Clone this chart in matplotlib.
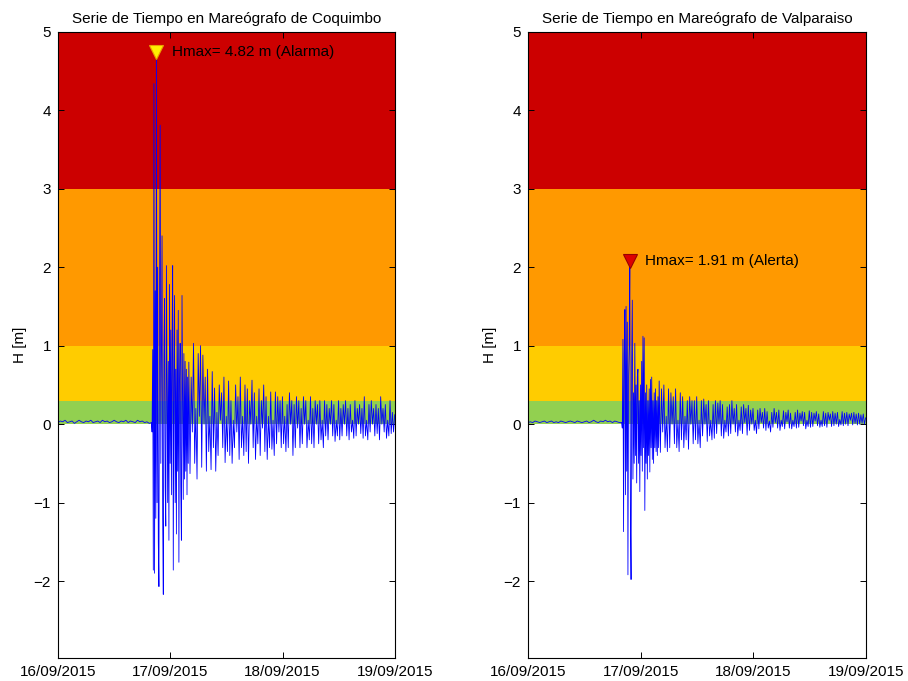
import numpy as np
import matplotlib
matplotlib.use('Agg')
import matplotlib.pyplot as plt

plt.rcParams['font.family'] = ['Liberation Sans', 'DejaVu Sans']

# titulos y estaciones
estaciones = ['Coquimbo', 'Valparaiso']
hmax = [4.82, 1.91]
estado = ['Alarma', 'Alerta']
marca_h = [4.74, 2.08]
dias = ['16/09/2015', '17/09/2015', '18/09/2015', '19/09/2015']

# niveles de alerta (m) y colores
niveles = [0.0, 0.3, 1.0, 3.0, 5.0]
colores_nivel = ['#92D050', '#FFCC00', '#FF9900', '#CC0000']

# muestreo (dias desde 16/09/2015 00:00)
t_pre0, dt_pre = 0.0, 1 / 48.
t_a0, dt_a = 0.832, 1 / 180.
t_b0, dt_b = 1.165, 1 / 96.

# Coquimbo
coq_pre = [0.02, 0.04, 0.03, 0.05, 0.02, 0.03, 0.04, 0.01, 0.03, 0.05,
           0.03, 0.02, 0.04, 0.03, 0.05, 0.02, 0.03, 0.04, 0.02, 0.05,
           0.03, 0.04, 0.02, 0.03, 0.05, 0.03, 0.02, 0.04, 0.03, 0.05,
           0.02, 0.04, 0.03, 0.02, 0.05, 0.03, 0.04, 0.02, 0.03, 0.01]
coq_a = [0.02, -0.10, 0.95, -1.86, 4.34, -1.90, 1.7, -1.2, 4.74, -1.0,
         2.0, -1.5, -2.07, 1.7, 3.81, -0.5, 1.0, 2.40, -1.2, -2.17,
         0.9, 1.6, -0.8, -1.3, 2.02, 0.5, -1.0, 0.8, -1.48, 1.78,
         -0.5, 1.2, -0.9, 1.0, 2.02, -1.86, 0.6, 1.64, -1.0, 0.7,
         -1.4, 1.2, -0.6, 1.45, -1.76, 0.5, 1.03, -0.8, -1.48, 1.64,
         0.3, -0.96, 0.9, -0.7, 0.8, -0.6, 0.7, -0.9, 0.6, -0.5]
coq_b = [0.79, -0.63, 0.6, -0.1, 1.03, -0.5, 0.2, -0.7, 0.9, 0.1,
         1.0, -0.55, 0.88, 0.0, 0.6, -0.6, 0.70, -0.35, 0.1, -0.58,
         0.67, -0.3, 0.46, -0.6, 0.15, -0.4, 0.5, 0.05, 0.4, -0.3,
         0.6, -0.49, 0.1, -0.35, 0.55, -0.4, 0.3, -0.5, 0.05, -0.3,
         0.5, -0.1, 0.35, -0.45, 0.6, -0.3, 0.1, -0.4, 0.5, -0.35,
         0.45, -0.5, 0.3, 0.0, 0.56, -0.3, 0.4, -0.45, 0.1, -0.25,
         0.45, -0.4, 0.3, -0.05, 0.5, -0.35, 0.35, -0.45, 0.1, -0.3,
         0.41, -0.32, 0.05, -0.4, 0.41, -0.25, 0.35, -0.1, 0.3, -0.3,
         0.35, -0.25, 0.1, -0.35, 0.25, -0.3, 0.4, 0.0, 0.3, -0.4,
         0.25, -0.3, 0.35, -0.05, 0.3, -0.3, 0.2, -0.25, 0.35, 0.0,
         0.3, -0.3, 0.05, -0.2, 0.35, -0.25, 0.2, -0.3, 0.3, 0.0,
         0.25, -0.25, 0.3, -0.2, 0.05, -0.3, 0.3, -0.15, 0.25, -0.2,
         0.2, 0.0, 0.3, -0.15, 0.25, -0.22, 0.05, -0.15, 0.3, -0.2,
         0.2, -0.15, 0.25, 0.0, 0.3, -0.15, 0.2, -0.2, 0.25, -0.1,
         0.05, -0.18, 0.3, -0.15, 0.2, 0.0, 0.25, -0.12, 0.2, -0.18,
         0.35, -0.15, 0.05, -0.2, 0.25, -0.1, 0.3, 0.0, 0.2, -0.15,
         0.25, -0.12, 0.2, -0.2, 0.35, 0.0, 0.2, -0.1, 0.25, -0.18,
         0.05, -0.15, 0.3, -0.12, 0.15, -0.1, 0.12]

# Valparaiso
val_pre = [0.02, 0.03, 0.02, 0.04, 0.03, 0.02, 0.03, 0.04, 0.02, 0.03,
           0.04, 0.02, 0.03, 0.02, 0.04, 0.03, 0.02, 0.03, 0.04, 0.03,
           0.02, 0.04, 0.03, 0.02, 0.03, 0.04, 0.02, 0.03, 0.05, 0.03,
           0.02, 0.04, 0.03, 0.05, 0.03, 0.04, 0.02, 0.04, 0.03, 0.02]
val_a = [0.02, -0.05, 1.08, -1.37, 0.9, 1.46, -0.9, 1.5, -0.6, 1.3,
         -1.92, 0.6, 1.0, 2.0, -1.2, -1.98, 0.8, 1.58, -0.7, 0.4,
         -0.5, 1.03, -0.4, 0.5, -0.75, 0.6, 0.7, -0.5, 0.3, -0.86,
         0.5, -0.4, 0.8, -0.6, 1.12, -0.3, 1.1, -1.1, 0.4, -0.5,
         0.5, -0.7, 0.3, -0.4, 0.45, -0.61, 0.57, -0.3, 0.6, -0.45,
         0.3, -0.5, 0.4, -0.3, 0.45, -0.35, 0.3, -0.4, 0.35, -0.3]
val_b = [0.55, -0.36, 0.45, -0.1, 0.5, -0.3, 0.1, -0.35, 0.45, -0.3,
         0.4, 0.0, 0.35, -0.25, 0.45, -0.3, 0.05, -0.35, 0.4, -0.2,
         0.35, -0.3, 0.1, -0.2, 0.3, -0.32, 0.35, 0.0, 0.3, -0.25,
         0.3, -0.2, 0.35, -0.25, 0.05, -0.3, 0.3, -0.15, 0.32, 0.0,
         0.25, -0.22, 0.3, -0.15, 0.05, -0.2, 0.25, -0.18, 0.3, -0.12,
         0.27, 0.0, 0.3, -0.15, 0.25, -0.18, 0.05, -0.1, 0.22, -0.15,
         0.25, -0.12, 0.3, 0.0, 0.2, -0.1, 0.25, -0.15, 0.05, -0.08,
         0.22, -0.12, 0.25, 0.02, 0.2, -0.14, 0.24, -0.08, 0.18, 0.0,
         0.2, -0.08, 0.05, -0.12, 0.18, -0.06, 0.2, 0.02, 0.15, -0.05,
         0.2, -0.08, 0.16, -0.05, 0.04, -0.1, 0.15, -0.04, 0.2, 0.02,
         0.15, -0.05, 0.18, -0.08, 0.05, -0.03, 0.17, -0.06, 0.15, 0.03,
         0.18, -0.05, 0.14, -0.06, 0.05, -0.03, 0.15, -0.05, 0.18, -0.04,
         0.14, 0.04, 0.16, -0.02, 0.15, -0.06, 0.05, -0.03, 0.17, -0.04,
         0.15, -0.03, 0.14, 0.04, 0.16, -0.02, 0.13, -0.04, 0.05, -0.03,
         0.16, -0.02, 0.14, -0.04, 0.15, 0.05, 0.13, -0.03, 0.16, -0.02,
         0.14, 0.0, 0.15, -0.03, 0.06, -0.01, 0.16, -0.02, 0.14, 0.0,
         0.15, -0.02, 0.13, 0.05, 0.14, -0.01, 0.15, 0.01, 0.13, -0.01,
         0.14, 0.0, 0.12, 0.01, 0.13, 0.0, 0.08]


def serie(pre, a, b):
    t = np.concatenate([t_pre0 + np.arange(len(pre)) * dt_pre,
                        t_a0 + np.arange(len(a)) * dt_a,
                        t_b0 + np.arange(len(b)) * dt_b])
    h = np.array(pre + a + b)
    return t, h


series = [serie(coq_pre, coq_a, coq_b), serie(val_pre, val_a, val_b)]
marca_color = [('#FFEE00', '#E8A000'), ('#DD0000', '#990000')]

fig = plt.figure(figsize=(9.08, 6.81), dpi=100)
posiciones = [[0.0639, 0.0338, 0.371, 0.9195], [0.5815, 0.0338, 0.372, 0.9195]]

for k in range(2):
    ax = fig.add_axes(posiciones[k])
    t, h = series[k]
    for i in range(len(colores_nivel)):
        ax.axhspan(niveles[i], niveles[i + 1], color=colores_nivel[i], lw=0, zorder=0)
    ax.plot(t, h, color='#0000FF', lw=0.6, zorder=2)
    ip = np.argmax(h)
    ax.plot(t[ip], marca_h[k], marker='v', ms=10, mfc=marca_color[k][0],
            mec=marca_color[k][1], mew=0.8, zorder=3)
    ax.annotate('Hmax= %.2f m (%s)' % (hmax[k], estado[k]), xy=(t[ip], marca_h[k]),
                xytext=(11, 0), textcoords='offset points', va='center', ha='left',
                fontsize=11, zorder=4)
    ax.set_xlim(0, 3)
    ax.set_ylim(-2.98, 5)
    ax.set_xticks([0, 1, 2, 3])
    ax.set_xticklabels(dias)
    ax.set_yticks(range(-2, 6))
    ax.tick_params(direction='in', top=True, right=True, length=4, width=0.7,
                   labelsize=11, pad=5)
    for s in ax.spines.values():
        s.set_linewidth(0.8)
    ax.set_ylabel('H [m]', fontsize=11, labelpad=5)
    ax.set_title('Serie de Tiempo en Mareógrafo de ' + estaciones[k], fontsize=11, pad=6)

plt.savefig('out.png', dpi=100)
